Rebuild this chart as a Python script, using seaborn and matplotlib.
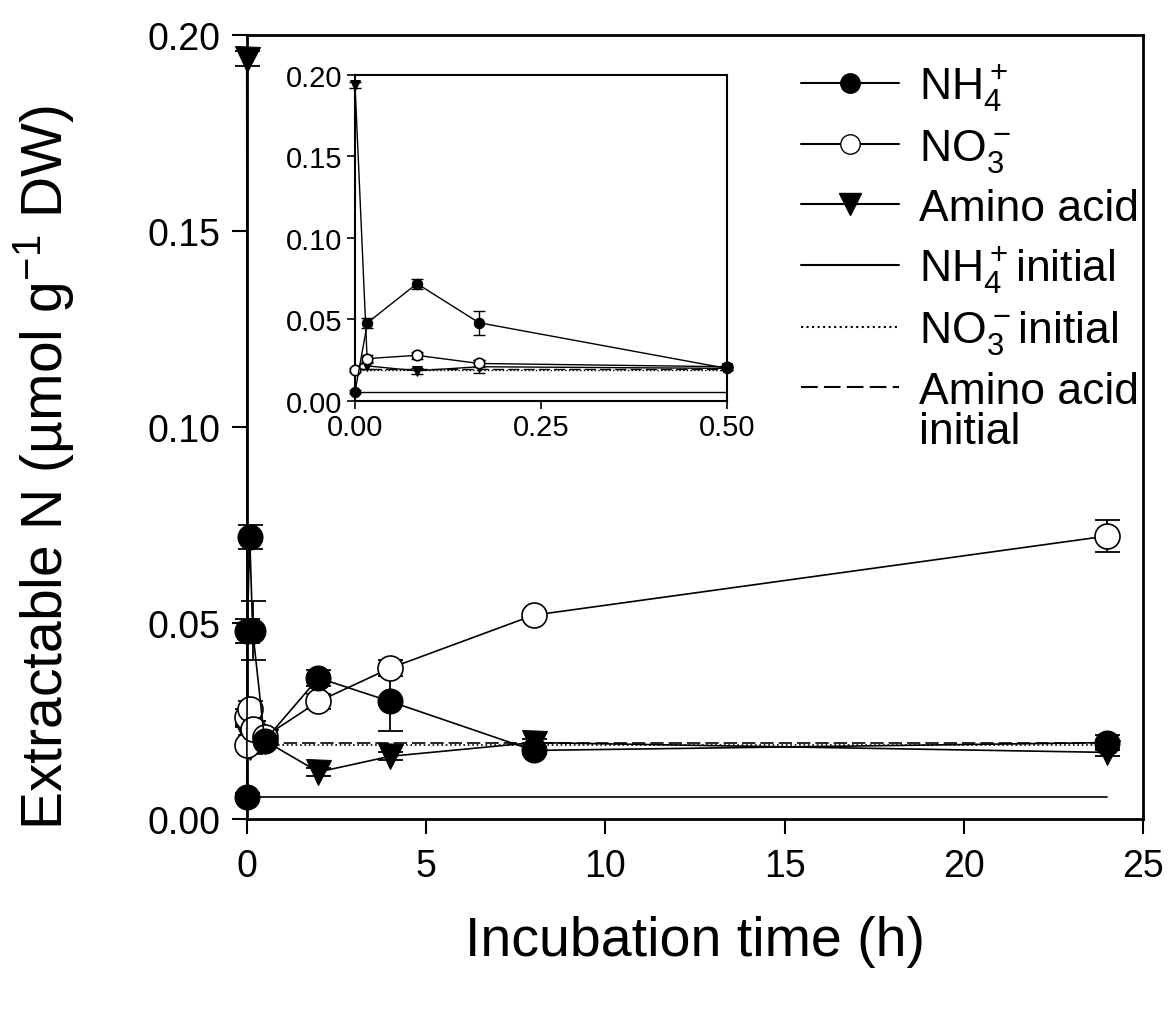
import numpy as np
import pandas as pd
import matplotlib
matplotlib.use("Agg")
import matplotlib.pyplot as plt
import seaborn as sns
from matplotlib.lines import Line2D

# ---------------- data ----------------
times = [0.0, 0.0167, 0.0833, 0.1667, 0.5, 2.0, 4.0, 8.0, 24.0]

nh4 = [0.0057, 0.048, 0.072, 0.048, 0.020, 0.036, 0.030, 0.0175, 0.0195]
nh4_err = [0.001, 0.003, 0.003, 0.0075, 0.001, 0.002, 0.0075, 0.001, 0.002]

no3 = [0.019, 0.026, 0.028, 0.023, 0.021, 0.030, 0.0385, 0.052, 0.0722]
no3_err = [0.001, 0.002, 0.002, 0.002, 0.001, 0.002, 0.002, 0.001, 0.004]

amino = [0.194, 0.0215, 0.0185, 0.021, 0.020, 0.012, 0.016, 0.0195, 0.017]
amino_err = [0.002, 0.002, 0.002, 0.004, 0.001, 0.001, 0.001, 0.001, 0.001]

init_nh4 = 0.0057
init_no3 = 0.019
init_amino = 0.0195
init_span_main = [0.0, 24.0]
init_span_inset = [0.0, 0.5]

main_xticks = [0, 5, 10, 15, 20, 25]
main_yticks = [0.00, 0.05, 0.10, 0.15, 0.20]
inset_xticks = [0.00, 0.25, 0.50]
inset_yticks = [0.00, 0.05, 0.10, 0.15, 0.20]

labels = [r"NH$_4^+$", r"NO$_3^-$", "Amino acid",
          r"NH$_4^+$initial", r"NO$_3^-$initial", "Amino acid"]
label_extra = "initial"

# ---------------- style ----------------
sns.set_style("ticks")
plt.rcParams["font.family"] = ["Liberation Sans", "DejaVu Sans"]
plt.rcParams["mathtext.default"] = "regular"

df = pd.DataFrame({"t": times, "nh4": nh4, "no3": no3, "amino": amino})
df_in = df[df["t"] <= 0.5]

fig = plt.figure(figsize=(11.76, 10.12), dpi=100)
ax = fig.add_axes([0.2098, 0.1897, 0.972 - 0.2098, 0.9644 - 0.1897])
axi = fig.add_axes([0.3019, 0.6028, 0.618 - 0.3019, 0.9249 - 0.6028])


def draw(a, d, span, ms, lw, cap, elw):
    # initial lines
    for val, ls in [(init_nh4, "-"), (init_no3, ":"), (init_amino, (0, (8, 3)))]:
        sns.lineplot(x=span, y=[val, val], ax=a, color="black", lw=lw,
                     linestyle=ls, errorbar=None, sort=False)
    # error bars
    m = d.index
    for col, err in [("amino", amino_err), ("no3", no3_err), ("nh4", nh4_err)]:
        e = np.array(err)[m]
        a.errorbar(d["t"], d[col], yerr=e, fmt="none", ecolor="black",
                   elinewidth=elw, capsize=cap, capthick=elw, clip_on=False,
                   zorder=3)
    sns.lineplot(data=d, x="t", y="amino", ax=a, color="black", lw=lw,
                 marker="v", markersize=ms, markerfacecolor="black",
                 markeredgecolor="black", errorbar=None, sort=False,
                 clip_on=False, zorder=4)
    sns.lineplot(data=d, x="t", y="no3", ax=a, color="black", lw=lw,
                 marker="o", markersize=ms, markerfacecolor="white",
                 markeredgecolor="black", markeredgewidth=1.2, errorbar=None,
                 sort=False, clip_on=False, zorder=5)
    sns.lineplot(data=d, x="t", y="nh4", ax=a, color="black", lw=lw,
                 marker="o", markersize=ms, markerfacecolor="black",
                 markeredgecolor="black", errorbar=None, sort=False,
                 clip_on=False, zorder=6)


draw(ax, df, init_span_main, 18, 1.2, 9, 1.3)
draw(axi, df_in, init_span_inset, 7.5, 1.0, 4, 1.0)

# main axes formatting
ax.set_xlim(0, 25)
ax.set_ylim(0, 0.20)
ax.set_xticks(main_xticks)
ax.set_yticks(main_yticks)
ax.set_yticklabels([f"{v:.2f}" for v in main_yticks])
ax.tick_params(axis="both", direction="out", length=11, width=1.5,
               labelsize=27, pad=8, colors="black")
ax.tick_params(axis="x", pad=10)
for s in ax.spines.values():
    s.set_visible(True)
    s.set_linewidth(2)
    s.set_color("black")
ax.set_xlabel("Incubation time (h)", fontsize=40, labelpad=22, color="black")
ax.set_ylabel(r"Extractable N (µmol g$^{-1}$ DW)", fontsize=41, color="black")
ax.yaxis.set_label_coords(-0.19, 0.45)

# inset formatting
axi.set_xlim(0, 0.5)
axi.set_ylim(0, 0.20)
axi.set_xticks(inset_xticks)
axi.set_xticklabels([f"{v:.2f}" for v in inset_xticks])
axi.set_yticks(inset_yticks)
axi.set_yticklabels([f"{v:.2f}" for v in inset_yticks])
axi.tick_params(axis="both", direction="out", length=6, width=1.2,
                labelsize=21, pad=3, colors="black")
axi.set_xlabel("")
axi.set_ylabel("")
for s in axi.spines.values():
    s.set_visible(True)
    s.set_linewidth(1.5)
    s.set_color("black")

# legend
handles = [
    Line2D([], [], color="black", lw=1.5, marker="o", markersize=14,
           markerfacecolor="black", markeredgecolor="black"),
    Line2D([], [], color="black", lw=1.5, marker="o", markersize=14,
           markerfacecolor="white", markeredgecolor="black"),
    Line2D([], [], color="black", lw=1.5, marker="v", markersize=16,
           markerfacecolor="black", markeredgecolor="black"),
    Line2D([], [], color="black", lw=1.5, linestyle="-"),
    Line2D([], [], color="black", lw=1.5, linestyle=":"),
    Line2D([], [], color="black", lw=1.5, linestyle=(0, (8, 3))),
]
leg = ax.legend(handles, labels, loc="upper right", bbox_to_anchor=(1.0, 0.972),
                frameon=False, fontsize=32, handlelength=2.2, handletextpad=0.45,
                labelspacing=0.32, borderpad=0.1, borderaxespad=0.0)
for t in leg.get_texts():
    t.set_color("black")

# second line of the last legend entry ("initial"), placed under its text
fig.canvas.draw()
bb = leg.get_texts()[-1].get_window_extent()
W, H = fig.bbox.width, fig.bbox.height
fig.text(bb.x0 / W, (bb.y0 + 1) / H, label_extra, fontsize=32,
         color="black", ha="left", va="top")

fig.savefig("out.png", dpi=100)
